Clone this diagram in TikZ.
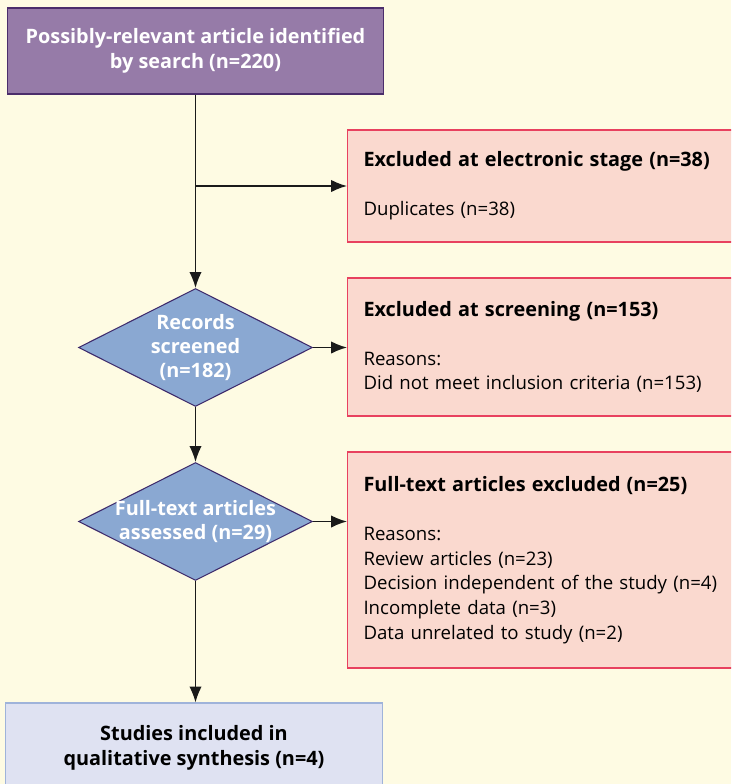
\documentclass[tikz,border=0pt]{standalone}
\usepackage{fontspec}
\setmainfont{Open Sans}
\usepackage{xcolor}
\usepackage{tikz}
\usetikzlibrary{arrows.meta}
\usetikzlibrary{shapes.geometric}
\definecolor{bgcolor}{HTML}{FEFBE3}
\definecolor{searchfill}{HTML}{967BA8}
\definecolor{searchline}{HTML}{4B2D6B}
\definecolor{decfill}{HTML}{8AA8D2}
\definecolor{decline}{HTML}{3D2A6B}
\definecolor{exfill}{HTML}{FAD9CF}
\definecolor{exline}{HTML}{E8415F}
\definecolor{inclfill}{HTML}{DFE2F2}
\definecolor{inclline}{HTML}{9FB3DA}
\definecolor{linkcolor}{HTML}{1A1A1A}
\newcommand{\hdfont}{\fontsize{11.3}{14}\selectfont\bfseries}

\begin{document}
\begin{tikzpicture}[x=0.02cm,y=-0.02cm,
  startbox/.style={draw=searchline,fill=searchfill,line width=0.6pt,minimum width=7.54cm,minimum height=1.72cm,text=white,font=\hdfont,align=center},
  decision/.style={diamond,aspect=2,draw=decline,fill=decfill,line width=0.6pt,inner sep=-0.1cm,minimum width=4.68cm,minimum height=2.36cm,text=white,font=\fontsize{11.3}{13.5}\selectfont\bfseries,align=center},
  exclbox/.style={draw=exline,fill=exfill,line width=0.6pt,anchor=west,text width=7.6cm,inner xsep=0.32cm,font=\fontsize{10.6}{14}\selectfont,align=left},
  endbox/.style={draw=inclline,fill=inclfill,line width=0.6pt,minimum width=7.56cm,minimum height=1.8cm,font=\hdfont,align=center},
  link/.style={draw=linkcolor,line width=0.9pt,-{Latex[length=9pt,width=7pt]}}]
\clip (0,0) rectangle (731,784);
\fill[bgcolor] (0,0) rectangle (731,784);
%% left column
\node[startbox] (search) at (195.5,51) {Possibly-relevant article identified\\by search (n=220)};
\node[decision] (screen) at (195.5,347.5) {Records\\screened\\(n=182)};
\node[decision] (full) at (195.5,521.5) {Full-text articles\\assessed (n=29)};
\node[endbox] (incl) at (194,748) {Studies included in\\qualitative synthesis (n=4)};
%% exclusion boxes (run off the right edge)
\node[exclbox,minimum height=2.24cm] (elec) at (347,186) {{\hdfont Excluded at electronic stage (n=38)}\\[14pt]Duplicates (n=38)};
\node[exclbox,minimum height=2.76cm] (scrout) at (347,347) {{\hdfont Excluded at screening (n=153)}\\[14pt]Reasons:\\Did not meet inclusion criteria (n=153)};
\node[exclbox,minimum height=4.32cm] (fullout) at (347,560) {{\hdfont Full-text articles excluded (n=25)}\\[14pt]Reasons:\\Review articles (n=23)\\Decision independent of the study (n=4)\\Incomplete data (n=3)\\Data unrelated to study (n=2)};
%% connectors
\coordinate (branch) at (search.south |- elec.west);
\draw[link] (search) -- (screen);
\draw[link] (branch) -- (elec.west);
\draw[link] (screen) -- (full);
\draw[link] (full.south) -- (full.south |- incl.north);
\draw[link] (screen.east) -- (screen.east -| scrout.west);
\draw[link] (full.east) -- (full.east -| fullout.west);
\end{tikzpicture}
\end{document}
